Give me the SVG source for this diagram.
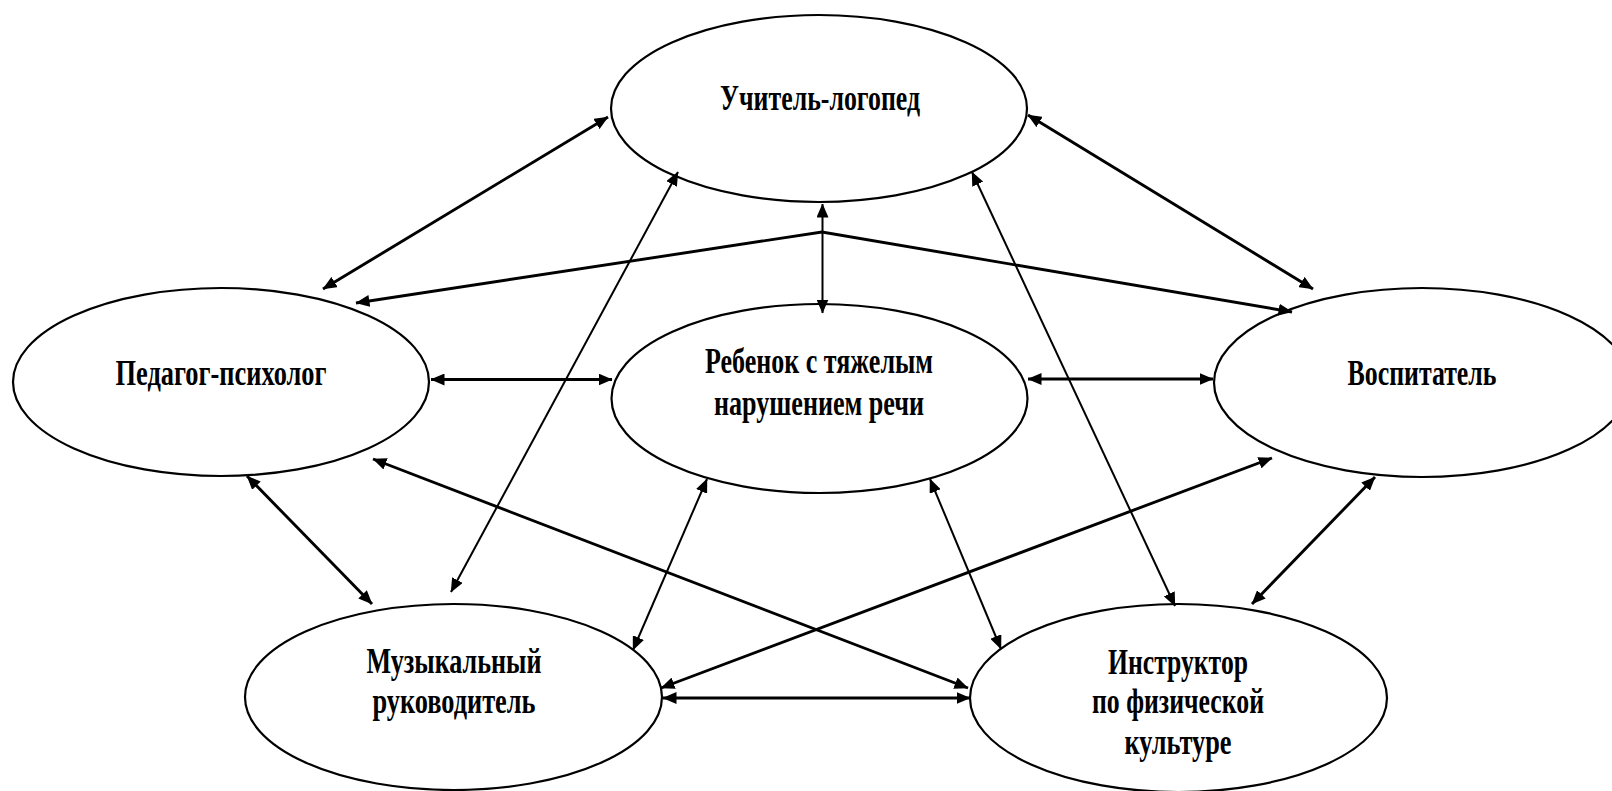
<svg xmlns="http://www.w3.org/2000/svg" width="1612" height="791" viewBox="0 0 1612 791">
<style>
.node ellipse{fill:#fff;stroke:#000;stroke-width:2.2}
.node text{font-family:"Liberation Serif","Times New Roman",serif;font-weight:bold;font-size:36px;fill:#000;text-anchor:middle}
.c{fill:none;stroke:#000;marker-start:url(#ah);marker-end:url(#ah)}
.thick{stroke-width:2.9}
.thin{stroke-width:2}
</style>
<defs>
<marker id="ah" viewBox="0 0 14 12" refX="13.5" refY="6" markerWidth="14" markerHeight="12" markerUnits="userSpaceOnUse" orient="auto-start-reverse">
<path d="M0,0 L14,6 L0,12 z" fill="#000"/>
</marker>
</defs>
<rect width="1612" height="791" fill="#fff"/>
<g id="node-logoped" class="node">
<ellipse cx="819" cy="108.5" rx="208" ry="93.5"/>
<text x="820" y="110" textLength="200" lengthAdjust="spacingAndGlyphs">Учитель-логопед</text>
</g>
<g id="node-psiholog" class="node">
<ellipse cx="221" cy="382" rx="208" ry="94"/>
<text x="221" y="385" textLength="211" lengthAdjust="spacingAndGlyphs">Педагог-психолог</text>
</g>
<g id="node-child" class="node">
<ellipse cx="819.5" cy="398.5" rx="208" ry="94.5"/>
<text x="819" y="373" textLength="228" lengthAdjust="spacingAndGlyphs">Ребенок с тяжелым</text>
<text x="819" y="415" textLength="210" lengthAdjust="spacingAndGlyphs">нарушением речи</text>
</g>
<g id="node-vospitatel" class="node">
<ellipse cx="1422" cy="382.5" rx="208" ry="94.5"/>
<text x="1422" y="385" textLength="149" lengthAdjust="spacingAndGlyphs">Воспитатель</text>
</g>
<g id="node-music" class="node">
<ellipse cx="453.5" cy="697" rx="208.5" ry="93"/>
<text x="454" y="673" textLength="175" lengthAdjust="spacingAndGlyphs">Музыкальный</text>
<text x="454" y="713" textLength="163" lengthAdjust="spacingAndGlyphs">руководитель</text>
</g>
<g id="node-instructor" class="node">
<ellipse cx="1178.5" cy="698" rx="208.5" ry="94"/>
<text x="1178" y="674" textLength="140" lengthAdjust="spacingAndGlyphs">Инструктор</text>
<text x="1178" y="713" textLength="172" lengthAdjust="spacingAndGlyphs">по физической</text>
<text x="1178" y="754" textLength="107" lengthAdjust="spacingAndGlyphs">культуре</text>
</g>
<g id="connectors">
<line class="c thick" x1="608" y1="117" x2="323" y2="289"/>
<line class="c thick" x1="1028" y1="115" x2="1313" y2="289"/>
<line class="c thin" x1="822.5" y1="204" x2="822.5" y2="313"/>
<polyline class="c thick" points="356,303 822,232 1292,312"/>
<line class="c thick" x1="431" y1="379.5" x2="612" y2="379.5"/>
<line class="c thick" x1="1028" y1="379" x2="1213" y2="379"/>
<line class="c thin" x1="678" y1="172" x2="451" y2="592"/>
<line class="c thin" x1="972" y1="172" x2="1175" y2="606"/>
<line class="c thick" x1="247" y1="476" x2="372" y2="604"/>
<line class="c thick" x1="373" y1="459" x2="968" y2="688"/>
<line class="c thin" x1="707" y1="479" x2="633" y2="650"/>
<line class="c thin" x1="930" y1="479" x2="1001" y2="649"/>
<line class="c thick" x1="1272" y1="458" x2="661" y2="688"/>
<line class="c thick" x1="1375" y1="477" x2="1252" y2="604"/>
<line class="c thick" x1="663" y1="698" x2="970" y2="698"/>
</g>
</svg>
